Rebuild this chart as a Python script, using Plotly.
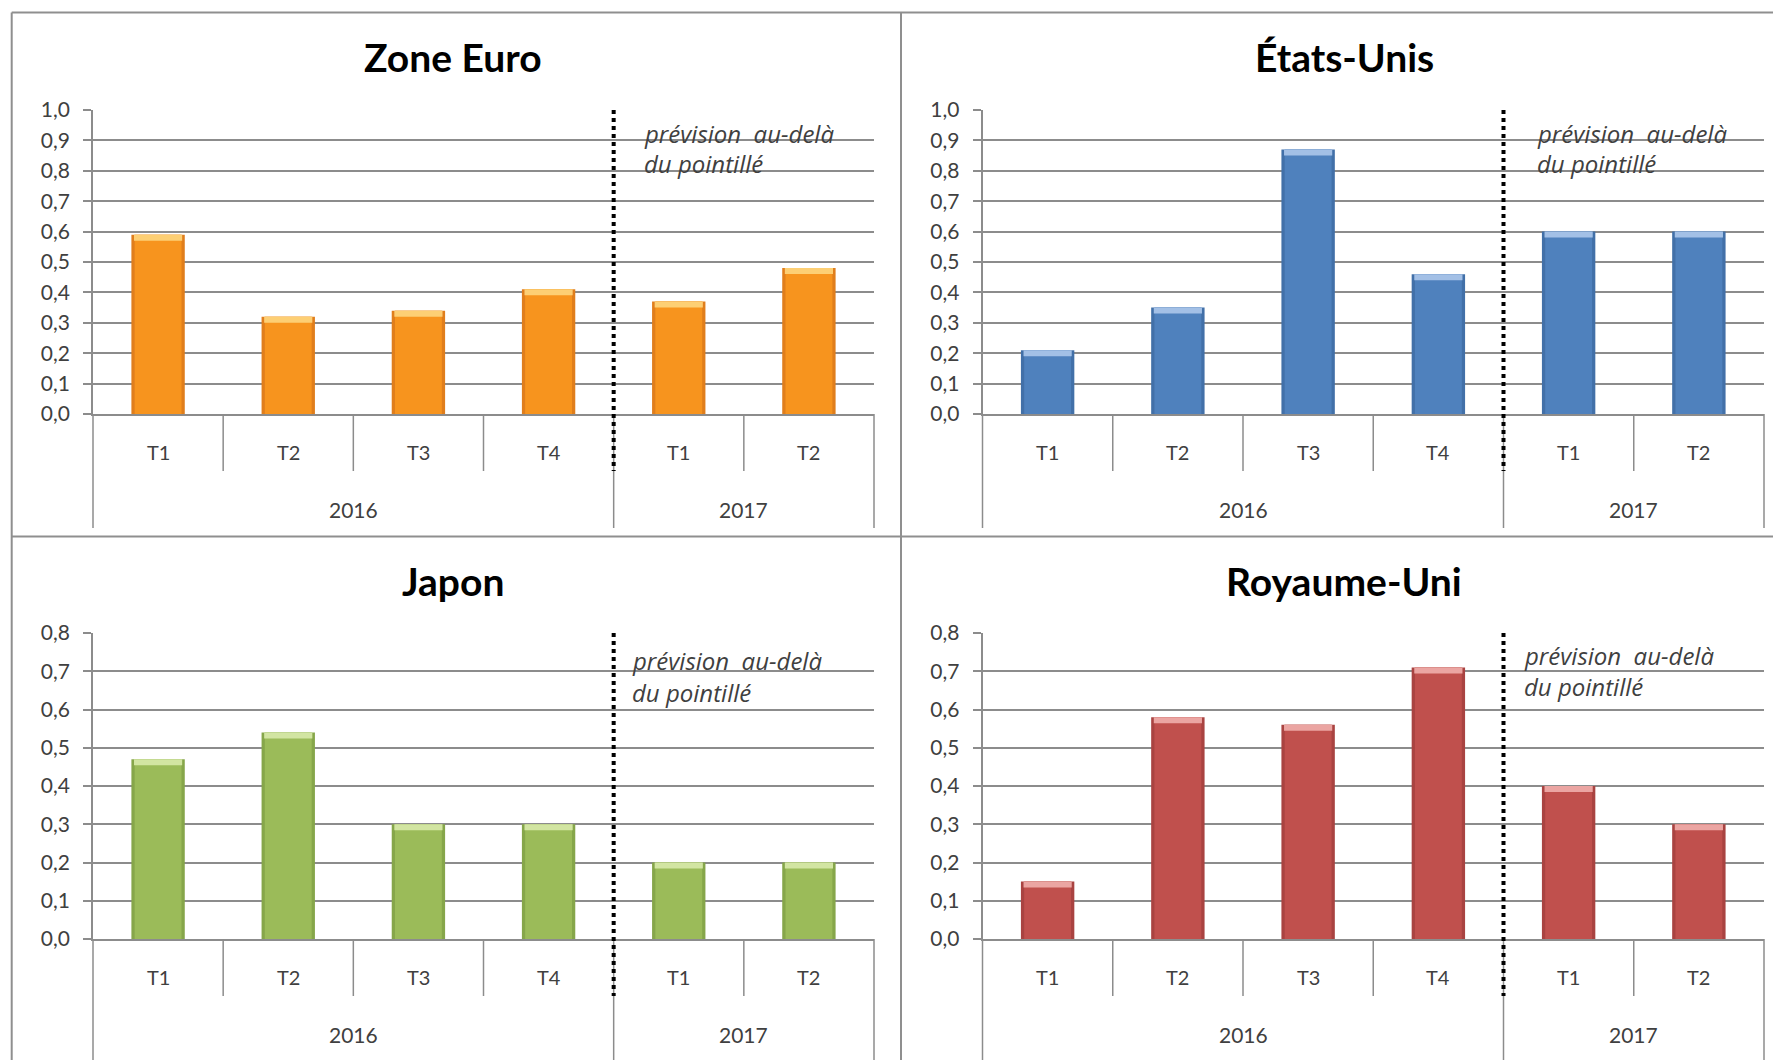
import plotly.graph_objects as go

# ---------------- data ----------------
quarters = ["T1", "T2", "T3", "T4", "T1", "T2"]
years = ["2016", "2016", "2016", "2016", "2017", "2017"]

zone_euro = [0.59, 0.32, 0.34, 0.41, 0.37, 0.48]
etats_unis = [0.21, 0.35, 0.87, 0.46, 0.60, 0.60]
japon = [0.47, 0.54, 0.30, 0.30, 0.20, 0.20]
royaume_uni = [0.15, 0.58, 0.56, 0.71, 0.40, 0.30]

titles = ["Zone Euro", "États-Unis", "Japon", "Royaume-Uni"]
note_line1 = "prévision  au-delà"
note_line2 = "du pointillé"
forecast_from_year = "2017"

# ---------------- layout helpers ----------------
W, H = 1773, 1060
FONT = "Lato"
GRID = "#8C8C8C"
TXT = "#404040"


def fx(p):
    return p / W


def fy(p):
    return 1 - p / H


panels = [
    dict(values=zone_euro, main="#F7941E", edge="#E07E1C", cap="#FDCF74", ymax=1.0,
         x0=93, x1=874, ytop=110, ybot=414, tx=453, ty=57, nx=642, ny=(133, 164), ydeep=114),
    dict(values=etats_unis, main="#4F81BD", edge="#4270A8", cap="#A3C0E6", ymax=1.0,
         x0=982.5, x1=1764, ytop=110, ybot=414, tx=1344, ty=57, nx=1535, ny=(133, 164), ydeep=114),
    dict(values=japon, main="#9BBB59", edge="#86A64A", cap="#D2E5A2", ymax=0.8,
         x0=93, x1=874, ytop=633, ybot=939, tx=453, ty=581, nx=630, ny=(660, 692), ydeep=125),
    dict(values=royaume_uni, main="#C0504D", edge="#A94341", cap="#EBA5A2", ymax=0.8,
         x0=982.5, x1=1764, ytop=633, ybot=939, tx=1344, ty=581, nx=1522, ny=(655, 686), ydeep=125),
]

n = len(quarters)
xs = list(range(n))

fig = go.Figure()
shapes = []
annotations = []

for k, (p, title) in enumerate(zip(panels, titles)):
    sfx = "" if k == 0 else str(k + 1)
    xa, ya = "x" + sfx, "y" + sfx
    vals = p["values"]
    dom_px = p["ybot"] - p["ytop"]
    cap_h = p["ymax"] * 6 / dom_px

    # bars: slightly darker edge, main body, light bevel cap on top
    fig.add_trace(go.Bar(x=xs, y=vals, width=0.41, marker=dict(color=p["edge"], line=dict(width=0)),
                         xaxis=xa, yaxis=ya, showlegend=False, hoverinfo="skip"))
    fig.add_trace(go.Bar(x=xs, y=vals, width=0.36, marker=dict(color=p["main"], line=dict(width=0)),
                         xaxis=xa, yaxis=ya, showlegend=False,
                         text=[f"{q} {y}" for q, y in zip(quarters, years)],
                         hovertemplate="%{text}: %{y:.2f}<extra></extra>", textposition="none"))
    fig.add_trace(go.Bar(x=xs, y=[cap_h] * n, base=[v - cap_h for v in vals], width=0.37,
                         marker=dict(color=p["cap"], line=dict(width=0)),
                         xaxis=xa, yaxis=ya, showlegend=False, hoverinfo="skip"))

    fig.update_layout(**{
        ("xaxis" + sfx): dict(domain=[fx(p["x0"]), fx(p["x1"])], range=[-0.5, n - 0.5], anchor=ya,
                              showgrid=False, zeroline=False, showticklabels=False, ticks="",
                              showline=True, linecolor=GRID, linewidth=1.8, fixedrange=True,
                              automargin=False),
        ("yaxis" + sfx): dict(domain=[fy(p["ybot"]), fy(p["ytop"])], range=[0, p["ymax"]], anchor=xa,
                              dtick=0.1, tick0=0, tickformat=".1f", showgrid=True, gridcolor=GRID,
                              gridwidth=1.6, zeroline=False, showline=True, linecolor=GRID, linewidth=1.6,
                              ticks="outside", ticklen=8, tickcolor=GRID, tickwidth=1.6,
                              ticklabelstandoff=9,
                              tickfont=dict(family=FONT, size=21, color=TXT), fixedrange=True,
                              automargin=False),
    })

    xd, yd = xa + " domain", ya + " domain"
    q_depth = -57 / dom_px
    y_depth = -p["ydeep"] / dom_px

    # category separators (quarter level and year level)
    for b in range(n + 1):
        is_year_edge = b == 0 or b == n or years[b] != years[b - 1]
        shapes.append(dict(type="line", xref=xd, yref=yd, x0=b / n, x1=b / n, y0=0,
                           y1=y_depth if is_year_edge else q_depth,
                           line=dict(color=GRID, width=1.5)))

    # quarter labels
    for i, q in enumerate(quarters):
        annotations.append(dict(xref=xa, yref=yd, x=i, y=-38 / dom_px, text=q, showarrow=False,
                                xanchor="center", yanchor="middle",
                                font=dict(family=FONT, size=20, color=TXT)))
    # year labels
    for yv in dict.fromkeys(years):
        idx = [i for i, y in enumerate(years) if y == yv]
        annotations.append(dict(xref=xa, yref=yd, x=sum(idx) / len(idx), y=-95 / dom_px, text=yv,
                                showarrow=False, xanchor="center", yanchor="middle",
                                font=dict(family=FONT, size=21, color=TXT)))

    # forecast dotted line
    fb = years.index(forecast_from_year)
    shapes.append(dict(type="line", xref=xd, yref=yd, x0=fb / n, x1=fb / n, y0=1, y1=q_depth,
                       line=dict(color="black", width=4, dash="dot")))

    # notes
    for line_txt, ny in zip([note_line1, note_line2], p["ny"]):
        annotations.append(dict(xref="paper", yref="paper", x=fx(p["nx"]), y=fy(ny),
                                text="<i>" + line_txt + "</i>",
                                showarrow=False, xanchor="left", yanchor="middle",
                                font=dict(family="Open Sans", size=24, color=TXT)))

    # title
    annotations.append(dict(xref="paper", yref="paper", x=fx(p["tx"]), y=fy(p["ty"]),
                            text="<b>" + title + "</b>",
                            showarrow=False, xanchor="center", yanchor="middle",
                            font=dict(family=FONT, size=39, color="black")))

# panel borders
BORDER = "#8F8F8F"
for (x0, y0, x1, y1) in [(11.7, 12.5, W, 12.5), (11.7, 536.5, W, 536.5),
                         (11.7, 12.5, 11.7, H), (901, 12.5, 901, H)]:
    shapes.append(dict(type="line", xref="paper", yref="paper", x0=fx(x0), y0=fy(y0), x1=fx(x1), y1=fy(y1),
                       line=dict(color=BORDER, width=2)))

fig.update_layout(width=W, height=H, margin=dict(l=0, r=0, t=0, b=0, pad=0), barmode="overlay",
                  paper_bgcolor="white", plot_bgcolor="white", separators=", ",
                  shapes=shapes, annotations=annotations, showlegend=False,
                  font=dict(family=FONT, color=TXT))

fig.write_html(
    "out.html",
    include_plotlyjs=True,
    config={"displayModeBar": False},
    post_script="document.documentElement.style.margin='0';document.documentElement.style.padding='0';"
                "document.body.style.margin='0';document.body.style.padding='0';"
                "document.body.style.overflow='hidden';",
)
